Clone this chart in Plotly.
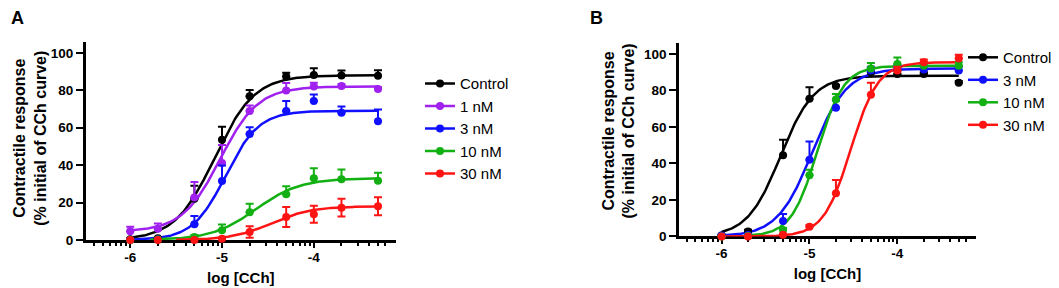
import numpy as np
import plotly.graph_objects as go

# ---------------- data ----------------
log_cch = [-6.0, -5.699, -5.301, -5.0, -4.699, -4.301, -4.0, -3.699, -3.301]

# Panel A (mean, SEM)
a_names = ["Control", "1 nM", "3 nM", "10 nM", "30 nM"]
a_ctrl = [0.5, 1.0, 22.0, 53.5, 76.8, 87.4, 88.1, 87.9, 87.7]
a_ctrl_err = [0.5, 0.5, 7.0, 7.0, 3.3, 2.0, 3.6, 2.6, 3.0]
a_1nm = [4.7, 6.0, 22.7, 41.2, 68.9, 79.9, 82.0, 82.2, 80.6]
a_1nm_err = [2.4, 2.8, 8.3, 9.5, 3.0, 4.0, 2.0, 1.0, 1.0]
a_3nm = [0.2, 0.5, 8.5, 31.5, 56.6, 68.9, 74.2, 68.0, 63.5]
a_3nm_err = [0.3, 0.3, 4.3, 8.3, 3.6, 5.3, 3.5, 3.3, 6.2]
a_10nm = [0.0, 0.3, 1.7, 5.2, 14.9, 24.4, 33.0, 32.5, 31.7]
a_10nm_err = [0.0, 0.3, 1.0, 3.1, 4.5, 4.3, 5.4, 5.2, 4.3]
a_30nm = [0.0, 0.0, 0.0, 0.7, 4.3, 12.3, 13.8, 17.3, 18.0]
a_30nm_err = [0.0, 0.0, 0.0, 0.7, 3.1, 5.3, 4.5, 4.7, 4.8]

# Panel B (mean, SEM)
b_names = ["Control", "3 nM", "10 nM", "30 nM"]
b_ctrl = [0.5, 2.7, 44.5, 75.5, 82.5, 90.0, 89.0, 89.0, 84.2]
b_ctrl_err = [0.5, 1.0, 8.5, 6.2, 0.5, 2.5, 2.0, 1.0, 1.0]
b_3nm = [0.5, 0.8, 8.5, 42.0, 70.5, 91.0, 91.5, 91.5, 91.0]
b_3nm_err = [0.5, 0.5, 3.8, 10.0, 4.0, 2.0, 2.0, 2.0, 2.0]
b_10nm = [0.0, 0.3, 3.6, 33.5, 75.0, 92.0, 94.5, 93.5, 93.5]
b_10nm_err = [0.0, 0.3, 1.0, 3.0, 3.0, 3.0, 3.5, 2.0, 2.0]
b_30nm = [0.0, 0.0, 1.0, 5.3, 23.7, 77.6, 91.0, 95.5, 97.5]
b_30nm_err = [0.0, 0.0, 0.5, 1.0, 7.3, 6.6, 2.0, 1.5, 2.0]

# fitted four-parameter logistic curves: bottom, top, logEC50, Hill slope, start
a_fit_bottom = [0.0, 4.5, 0.0, 0.0, 0.0]
a_fit_top = [88.0, 82.0, 69.0, 33.0, 18.0]
a_fit_logec50 = [-5.08, -5.02, -4.96, -4.63, -4.46]
a_fit_hill = [2.0, 2.1, 2.4, 1.8, 2.0]
a_fit_start = [-6.0, -6.0, -6.0, -5.78, -5.5]

b_fit_bottom = [0.0, 0.0, 0.0, 0.0]
b_fit_top = [88.0, 92.0, 93.5, 95.5]
b_fit_logec50 = [-5.33, -4.97, -4.91, -4.53]
b_fit_hill = [2.3, 2.2, 2.9, 2.8]
b_fit_start = [-6.0, -6.0, -5.7, -6.0]

a_colors = ["#000000", "#A020F0", "#1010FF", "#12B012", "#FF1414"]
b_colors = ["#000000", "#1010FF", "#12B012", "#FF1414"]

x_tickvals = [-6, -5, -4]
x_ticktext = ["-6", "-5", "-4"]
y_tickvals = [0, 20, 40, 60, 80, 100]
minor_multipliers = [2, 3, 4, 5, 6, 7, 8, 9]

x_title = "log [CCh]"
y_title = "Contractile response<br>(% initial of CCh curve)"
panel_labels = ["A", "B"]

# ---------------- figure ----------------
W, H = 1059, 288
FONT = "Liberation Sans, Arial, Helvetica, sans-serif"

fig = go.Figure()


def px_x(p):
    return p / W


def px_y(p):
    return 1 - p / H


def add_panel(xref, yref, legend, names, means, errs, colors,
              bottoms, tops, ec50s, hills, starts, sym_last):
    n = len(names)
    for i in range(n):
        xc = np.linspace(starts[i], log_cch[-1], 200)
        yc = bottoms[i] + (tops[i] - bottoms[i]) / (1 + 10 ** ((ec50s[i] - xc) * hills[i]))
        fig.add_trace(go.Scatter(
            x=xc, y=yc, mode="lines", xaxis=xref, yaxis=yref,
            line=dict(color=colors[i], width=2.5), showlegend=False,
            hoverinfo="skip", cliponaxis=False))
    for i in range(n):
        sym = sym_last and i == n - 1
        fig.add_trace(go.Scatter(
            x=log_cch, y=means[i], mode="markers", xaxis=xref, yaxis=yref,
            marker=dict(color=colors[i], size=8, symbol="circle"),
            error_y=dict(type="data", array=errs[i],
                         arrayminus=errs[i] if sym else [0] * len(errs[i]),
                         symmetric=False, color=colors[i], thickness=2, width=4),
            showlegend=False, cliponaxis=False))
    for i in range(n):
        fig.add_trace(go.Scatter(
            x=[None], y=[None], mode="lines+markers", xaxis=xref, yaxis=yref,
            name=names[i], legend=legend,
            line=dict(color=colors[i], width=2.5),
            marker=dict(color=colors[i], size=8)))


add_panel("x", "y", "legend", a_names,
          [a_ctrl, a_1nm, a_3nm, a_10nm, a_30nm],
          [a_ctrl_err, a_1nm_err, a_3nm_err, a_10nm_err, a_30nm_err],
          a_colors, a_fit_bottom, a_fit_top, a_fit_logec50, a_fit_hill, a_fit_start, True)
add_panel("x2", "y2", "legend2", b_names,
          [b_ctrl, b_3nm, b_10nm, b_30nm],
          [b_ctrl_err, b_3nm_err, b_10nm_err, b_30nm_err],
          b_colors, b_fit_bottom, b_fit_top, b_fit_logec50, b_fit_hill, b_fit_start, False)

x_range = [-6.485, -3.105]
minor_vals = [d + np.log10(k) for d in (-7, -6, -5, -4) for k in minor_multipliers]
minor_vals = [v for v in minor_vals if x_range[0] < v < -3.2]

tick_font = dict(family=FONT, size=13.5, color="black", weight="bold")
title_font = dict(family=FONT, size=15, color="black", weight="bold")

xaxis_common = dict(
    range=x_range, showline=True, linewidth=2.5, linecolor="black",
    ticks="outside", ticklen=5, tickwidth=2, tickcolor="black",
    tickmode="array", tickvals=x_tickvals, ticktext=x_ticktext,
    tickfont=tick_font, showgrid=False, zeroline=False, layer="below traces",
    ticklabelstandoff=-2,
    minor=dict(tickmode="array", tickvals=minor_vals, ticks="outside",
               ticklen=3, tickwidth=2, tickcolor="black", showgrid=False),
    title=dict(text=x_title, font=title_font, standoff=9),
)
yaxis_common = dict(
    range=[0, 106], showline=True, linewidth=2.5, linecolor="black",
    ticks="outside", ticklen=7, tickwidth=2, tickcolor="black",
    tickmode="array", tickvals=y_tickvals, tickfont=tick_font,
    showgrid=False, zeroline=False, layer="below traces",
)

legend_font = dict(family=FONT, size=15, color="black")
label_font = dict(family=FONT, size=18, color="black", weight="bold")
ytitle_font = dict(family=FONT, size=16, color="black", weight="bold")

fig.update_layout(
    width=W, height=H, margin=dict(l=0, r=0, t=0, b=0),
    paper_bgcolor="white", plot_bgcolor="white",
    font=dict(family=FONT, color="black"),
    xaxis=dict(domain=[px_x(77.7), px_x(388)], anchor="y", **xaxis_common),
    yaxis=dict(domain=[px_y(238.7), px_y(34.5)], anchor="x", **yaxis_common),
    xaxis2=dict(domain=[px_x(671), px_x(968)], anchor="y2", **xaxis_common),
    yaxis2=dict(domain=[px_y(235), px_y(36)], anchor="x2", **yaxis_common),
    legend=dict(x=px_x(412), y=px_y(61), xanchor="left", yanchor="top",
                font=legend_font, bgcolor="rgba(0,0,0,0)", itemwidth=30, tracegroupgap=0),
    legend2=dict(x=px_x(955), y=px_y(34), xanchor="left", yanchor="top",
                 font=legend_font, bgcolor="rgba(0,0,0,0)", itemwidth=30, tracegroupgap=0),
    annotations=[
        dict(text=panel_labels[0], x=px_x(9.5), y=px_y(10.5), xref="paper", yref="paper",
             xanchor="center", yanchor="middle", showarrow=False, font=label_font),
        dict(text=panel_labels[1], x=px_x(588.5), y=px_y(10.5), xref="paper", yref="paper",
             xanchor="center", yanchor="middle", showarrow=False, font=label_font),
        dict(text=y_title, x=px_x(22.5), y=px_y(134), xref="paper", yref="paper",
             xanchor="center", yanchor="middle", textangle=-90, showarrow=False,
             font=ytitle_font),
        dict(text=y_title, x=px_x(611), y=px_y(127), xref="paper", yref="paper",
             xanchor="center", yanchor="middle", textangle=-90, showarrow=False,
             font=ytitle_font),
    ],
)

fig.write_html("out.html")
